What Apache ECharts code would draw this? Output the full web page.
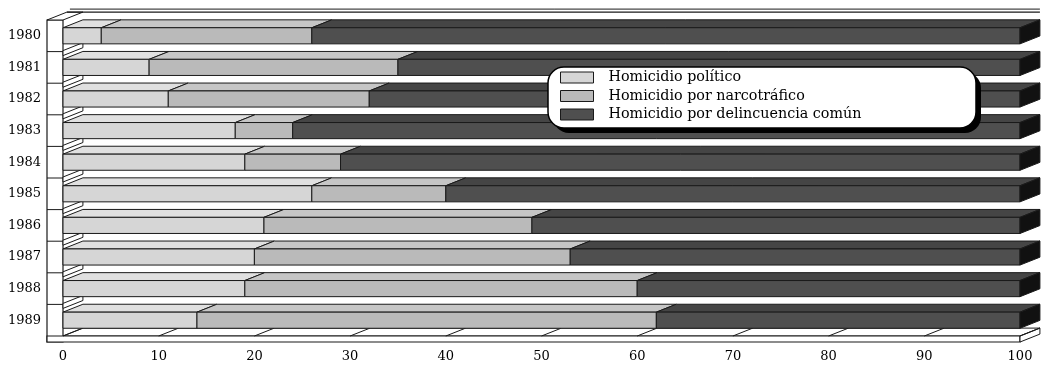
<!DOCTYPE html>
<html>
<head>
<meta charset="utf-8">
<script src="https://cdn.jsdelivr.net/npm/echarts@6/dist/echarts.min.js"></script>
<style>
  html, body { margin: 0; padding: 0; background: #ffffff; }
  #chart { width: 1042px; height: 366px; }
</style>
</head>
<body>
<div id="chart"></div>
<script>
// Homicides in Colombia by type, share of total (%), 1980-1989
const years = ['1980', '1981', '1982', '1983', '1984', '1985', '1986', '1987', '1988', '1989'];
const politico = [4, 9, 11, 18, 19, 26, 21, 20, 19, 14];
const narcotrafico = [22, 26, 21, 6, 10, 14, 28, 33, 41, 48];
const comun = [74, 65, 68, 76, 71, 60, 51, 47, 40, 38];
const xTicks = [0, 10, 20, 30, 40, 50, 60, 70, 80, 90, 100];

const seriesNames = ['Homicidio político', 'Homicidio por narcotráfico', 'Homicidio por delincuencia común'];
const seriesValues = [politico, narcotrafico, comun];
// front face, top face colours for each type
const faceColors = [
  { front: '#d6d6d6', top: '#e0e0e0' },
  { front: '#bababa', top: '#c6c6c6' },
  { front: '#4f4f4f', top: '#454545' }
];
const EDGE = '#1a1a1a';
const SERIF = 'DejaVu Serif';

// legend panel: rounded box with a solid drop shadow
const LEGEND_BOX = { x: 548, y: 67, w: 428, h: 61, r: 16, shadow: 5 };

// stacked segments: [categoryIndex, start, end, isLastSegment]
function segments(k) {
  return years.map((_, i) => {
    let start = 0;
    for (let j = 0; j < k; j++) start += seriesValues[j][i];
    const end = start + seriesValues[k][i];
    return [i, start, end, k === seriesValues.length - 1 ? 1 : 0];
  });
}

// depth of the pseudo-3D projection, relative to the category band
function depth(api) {
  const band = api.size([0, 1])[1];
  return { band: band, dx: band * 0.63, dy: band * 0.25, h: band * 0.51 };
}

function barItem(k) {
  return function (params, api) {
    const cat = api.value(0);
    const p0 = api.coord([api.value(1), cat]);
    const p1 = api.coord([api.value(2), cat]);
    const d = depth(api);
    const yTop = p0[1] - d.h / 2, yBot = p0[1] + d.h / 2;
    const x0 = p0[0], x1 = p1[0];
    const c = faceColors[k];
    const children = [
      {
        type: 'polygon',
        shape: { points: [[x0, yTop], [x1, yTop], [x1 + d.dx, yTop - d.dy], [x0 + d.dx, yTop - d.dy]] },
        style: { fill: c.top, stroke: EDGE, lineWidth: 1 }
      },
      {
        type: 'rect',
        shape: { x: x0, y: yTop, width: x1 - x0, height: yBot - yTop },
        style: { fill: c.front, stroke: EDGE, lineWidth: 1 }
      }
    ];
    if (api.value(3) === 1) {
      children.push({
        type: 'polygon',
        shape: { points: [[x1, yTop], [x1 + d.dx, yTop - d.dy], [x1 + d.dx, yBot - d.dy], [x1, yBot]] },
        style: { fill: '#111111', stroke: EDGE, lineWidth: 1 }
      });
    }
    return { type: 'group', children: children };
  };
}

// side wall, floor slab and category dividers
function frameItem(params, api) {
  const d = depth(api);
  const first = api.coord([0, 0]);
  const last = api.coord([100, years.length - 1]);
  const xL = first[0], xR = last[0];
  const top = first[1] - d.band / 2;
  const floor = last[1] + d.band / 2;
  const slab = 6, wall = 16;
  const children = [];
  const line = (a, b, w) => ({ type: 'line', shape: { x1: a[0], y1: a[1], x2: b[0], y2: b[1] }, style: { stroke: EDGE, lineWidth: w || 1 } });

  // wall front face and top
  children.push({ type: 'rect', shape: { x: xL - wall, y: top, width: wall, height: floor + slab - top }, style: { fill: '#ffffff', stroke: EDGE, lineWidth: 1.2 } });
  children.push({ type: 'polygon', shape: { points: [[xL - wall, top], [xL, top], [xL + d.dx, top - d.dy], [xL - wall + d.dx, top - d.dy]] }, style: { fill: '#ffffff', stroke: EDGE, lineWidth: 1 } });
  children.push(line([xL - wall + d.dx, top - d.dy], [xR + d.dx, top - d.dy], 1.2));
  children.push(line([xL - wall + d.dx + 3, top - d.dy - 3], [xR + d.dx, top - d.dy - 3], 1));

  // floor slab
  children.push({ type: 'polygon', shape: { points: [[xL, floor], [xR, floor], [xR + d.dx, floor - d.dy], [xL + d.dx, floor - d.dy]] }, style: { fill: '#ffffff', stroke: EDGE, lineWidth: 1 } });
  children.push({ type: 'rect', shape: { x: xL - wall, y: floor, width: xR - xL + wall, height: slab }, style: { fill: '#ffffff', stroke: EDGE, lineWidth: 1.2 } });
  children.push({ type: 'polygon', shape: { points: [[xR, floor], [xR + d.dx, floor - d.dy], [xR + d.dx, floor - d.dy + slab], [xR, floor + slab]] }, style: { fill: '#ffffff', stroke: EDGE, lineWidth: 1 } });
  xTicks.forEach(v => {
    const x = api.coord([v, 0])[0];
    children.push(line([x, floor], [x + d.dx, floor - d.dy], 1));
  });

  // dividers between categories on the wall
  for (let i = 1; i < years.length; i++) {
    const yb = api.coord([0, i])[1] - d.band / 2;
    children.push(line([xL - wall, yb], [xL, yb], 1));
    children.push({ type: 'polygon', shape: { points: [[xL, yb + 4], [xL, yb - 1], [xL + d.dx, yb - 1 - d.dy], [xL + d.dx, yb + 4 - d.dy]] }, style: { fill: '#ffffff', stroke: EDGE, lineWidth: 1 } });
  }
  return { type: 'group', children: children };
}

const series = seriesNames.map((name, k) => ({
  name: name,
  type: 'custom',
  renderItem: barItem(k),
  encode: { x: [1, 2], y: 0 },
  itemStyle: { color: faceColors[k].front, borderColor: EDGE, borderWidth: 1 },
  data: segments(k),
  z: 3
}));
series.unshift({
  name: 'frame',
  type: 'custom',
  renderItem: frameItem,
  encode: { x: 1, y: 0 },
  data: [[0, 0]],
  silent: true,
  z: 1
});

const chart = echarts.init(document.getElementById('chart'), null, { renderer: 'canvas' });
chart.setOption({
  backgroundColor: '#ffffff',
  animation: false,
  grid: { left: 63, right: 22, top: 20, bottom: 30 },
  xAxis: {
    type: 'value',
    min: 0,
    max: 100,
    interval: 10,
    axisLine: { show: false },
    axisTick: { show: true, inside: false, length: 6, lineStyle: { color: EDGE, width: 1 } },
    splitLine: { show: false },
    axisLabel: { margin: 14, color: '#000', fontFamily: SERIF, fontSize: 13 }
  },
  yAxis: {
    type: 'category',
    data: years,
    inverse: true,
    axisLine: { show: false },
    axisTick: { show: false },
    splitLine: { show: false },
    axisLabel: { margin: 22, color: '#000', fontFamily: SERIF, fontSize: 13 }
  },
  graphic: [
    {
      type: 'rect',
      z: 50,
      silent: true,
      shape: { x: LEGEND_BOX.x + LEGEND_BOX.shadow, y: LEGEND_BOX.y + LEGEND_BOX.shadow, width: LEGEND_BOX.w, height: LEGEND_BOX.h, r: LEGEND_BOX.r },
      style: { fill: '#000000' }
    },
    {
      type: 'rect',
      z: 51,
      silent: true,
      shape: { x: LEGEND_BOX.x, y: LEGEND_BOX.y, width: LEGEND_BOX.w, height: LEGEND_BOX.h, r: LEGEND_BOX.r },
      style: { fill: '#ffffff', stroke: '#000000', lineWidth: 1.5 }
    }
  ],
  legend: {
    data: seriesNames,
    orient: 'vertical',
    left: 548,
    top: 66,
    icon: 'rect',
    itemWidth: 33,
    itemHeight: 11,
    itemGap: 1.5,
    padding: [3, 118, 5, 12],
    itemStyle: { borderColor: EDGE, borderWidth: 1 },
    textStyle: { color: '#000', fontFamily: SERIF, fontSize: 14.3, lineHeight: 17, padding: [0, 0, 0, 10] },
    selectedMode: false,
    z: 60
  },
  series: series
});
</script>
</body>
</html>
